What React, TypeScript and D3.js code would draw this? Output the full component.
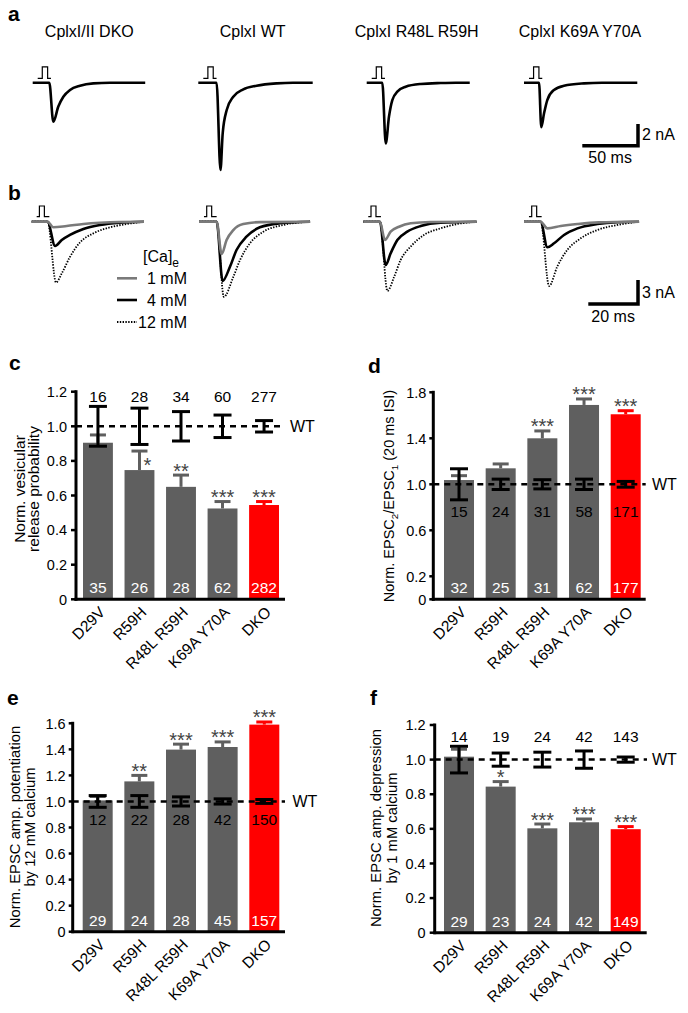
import React from "react";
import * as d3 from "d3";

const FONT = "'Liberation Sans', Arial, Helvetica, sans-serif";
const GRAY = "#5f5f5f";
const RED = "#ff0000";
const TRACE_GRAY = "#7a7a7a";

// ---------- shared categories ----------
const categories = ["D29V", "R59H", "R48L R59H", "K69A Y70A", "DKO"];

// ---------- panel c ----------
const cMeans = [0.905, 0.747, 0.65, 0.525, 0.545];
const cErr = [0.045, 0.11, 0.068, 0.04, 0.02];
const cWtErr = [0.115, 0.105, 0.085, 0.065, 0.033];
const cWtN = [16, 28, 34, 60, 277];
const cN = [35, 26, 28, 62, 282];
const cSig = ["", "*", "**", "***", "***"];
const cTicks = [0, 0.2, 0.4, 0.6, 0.8, 1.0, 1.2];

// ---------- panel d ----------
const dMeans = [1.037, 1.139, 1.4, 1.69, 1.609];
const dErr = [0.038, 0.038, 0.064, 0.052, 0.031];
const dWtErr = [0.135, 0.045, 0.04, 0.045, 0.025];
const dWtN = [15, 24, 31, 58, 171];
const dN = [32, 25, 31, 62, 177];
const dSig = ["", "", "***", "***", "***"];
const dTicks = [0, 0.2, 0.6, 1.0, 1.4, 1.8];

// ---------- panel e ----------
const eMeans = [1.008, 1.154, 1.398, 1.418, 1.59];
const eErr = [0.03, 0.046, 0.042, 0.039, 0.02];
const eWtErr = [0.045, 0.045, 0.035, 0.02, 0.015];
const eWtN = [12, 22, 28, 42, 150];
const eN = [29, 24, 28, 45, 157];
const eSig = ["", "**", "***", "***", "***"];
const eTicks = [0, 0.2, 0.4, 0.6, 0.8, 1.0, 1.2, 1.4, 1.6];

// ---------- panel f ----------
const fMeans = [1.017, 0.844, 0.603, 0.638, 0.598];
const fErr = [0.043, 0.029, 0.025, 0.019, 0.015];
const fWtErr = [0.077, 0.038, 0.043, 0.05, 0.015];
const fWtN = [14, 19, 24, 42, 143];
const fN = [29, 23, 24, 42, 149];
const fSig = ["", "*", "***", "***", "***"];
const fTicks = [0, 0.2, 0.4, 0.6, 0.8, 1.0, 1.2];

// ---------- panel a traces (ms, nA) ----------
const aTitles = ["CplxI/II DKO", "CplxI WT", "CplxI R48L R59H", "CplxI K69A Y70A"];
const aDKO = [[0, 0], [14.9, 0], [18.5, -3.6], [23, -2.2], [27.5, -1.29], [33.5, -0.67], [42.5, -0.28], [54.4, -0.06], [69.4, 0], [101, 0]];
const aWT = [[0, 0], [16.4, 0], [19.9, -8.05], [21.9, -4.66], [25.5, -2.52], [31.4, -1.29], [40.4, -0.61], [52.4, -0.28], [70.4, -0.06], [85, 0], [102.7, 0]];
const aR48L = [[0, 0], [14, 0], [17.1, -5.6], [20, -3.13], [23, -1.6], [27.5, -0.83], [35, -0.37], [48.5, -0.12], [66.4, -0.03], [80, 0], [92.5, 0]];
const aK69A = [[0, 0], [13.5, 0], [15.5, -4.1], [18, -2.82], [20.9, -1.6], [26.9, -0.67], [35.9, -0.28], [53.9, -0.06], [70, 0], [101.7, 0]];
const aStim = [[4.5, 0.4], [8.6, 0.4], [8.6, 1.45], [13.4, 1.45], [13.4, 0.4], [16.4, 0.4]];
const aScaleBar = { ms: 50, nA: 2 };

// ---------- panel b traces (ms, nA) ----------
const bDKO1 = [[0, 0], [6.4, 0], [8.7, -0.7], [14.1, -0.54], [20.8, -0.29], [27.5, -0.13], [35, -0.03], [45.2, 0]];
const bDKO4 = [[0, 0], [6.4, 0], [9.4, -3.04], [12.1, -2.29], [15.4, -1.66], [20.8, -0.91], [27.5, -0.41], [35.5, -0.12], [45.2, 0]];
const bDKO12 = [[0, 0], [6.4, 0], [9.8, -7.6], [12.1, -6.46], [15.4, -4.4], [19.4, -2.6], [24.8, -1.46], [31.5, -0.7], [38.2, -0.29], [45.2, 0]];
const bWT1 = [[0, 0], [7.1, 0], [9.1, -4.04], [11.1, -2.29], [13.8, -1.04], [17.8, -0.29], [24.5, -0.05], [44.7, 0]];
const bWT4 = [[0, 0], [7.1, 0], [9.5, -7.4], [12.5, -5.6], [15.1, -3.54], [19.1, -1.87], [24.5, -0.7], [32.6, -0.2], [44.7, 0]];
const bWT12 = [[0, 0], [7.1, 0], [10, -9.4], [13.8, -6.9], [16.5, -4.8], [20.5, -2.7], [25.9, -1.25], [33.9, -0.41], [44.7, 0]];
const bR48L1 = [[0, 0], [6.7, 0], [8.7, -2.29], [11, -1.25], [14.4, -0.63], [19.1, -0.2], [27, -0.03], [45.6, 0]];
const bR48L4 = [[0, 0], [6.7, 0], [9, -5.41], [11, -3.95], [13.7, -2.29], [17.7, -1.25], [23.1, -0.54], [31.1, -0.12], [45.6, 0]];
const bR48L12 = [[0, 0], [6.7, 0], [9.7, -8.66], [12.4, -6.9], [15, -4.8], [19.1, -3.1], [24.4, -1.66], [31.1, -0.83], [37.8, -0.29], [45.6, 0]];
const bK69A1 = [[0, 0], [6.7, 0], [9.4, -0.83], [14.8, -0.54], [21.5, -0.29], [30, -0.08], [46.3, 0]];
const bK69A4 = [[0, 0], [6.7, 0], [9.4, -3.2], [12.1, -2.7], [16.1, -1.66], [21.5, -0.83], [29.5, -0.29], [37.5, -0.06], [46.3, 0]];
const bK69A12 = [[0, 0], [6.7, 0], [10.1, -8.04], [13.4, -5.6], [17.4, -3.54], [22.8, -2.08], [29.5, -1.04], [37.5, -0.41], [46.3, 0]];
const bStim = [[2.0, 0.63], [3.1, 0.63], [3.1, 1.96], [5.1, 1.96], [5.1, 0.63], [7.1, 0.63]];
const bLegend = ["1 mM", "4 mM", "12 mM"];
const bScaleBar = { ms: 20, nA: 3 };

type Seg = { t: string; sub?: boolean };

function SegText({ segs, size }: { segs: Seg[]; size: number }) {
  const out: any[] = [];
  let shifted = false;
  segs.forEach((s, i) => {
    if (s.sub) {
      out.push(<tspan key={i} dy={size * 0.3} fontSize={size * 0.68}>{s.t}</tspan>);
      shifted = true;
    } else {
      out.push(<tspan key={i} dy={shifted ? -size * 0.3 : 0}>{s.t}</tspan>);
      shifted = false;
    }
  });
  return <>{out}</>;
}

type BarCfg = {
  letter: string; letterPos: [number, number];
  axisX: number; axisRight: number; band: [number, number];
  yRange: [number, number]; max: number; ticks: number[];
  tickLen: number; tickGap: number;
  means: number[]; err: number[]; wtErr: number[]; wtN: number[]; n: number[]; sig: string[];
  wtNBaseline: number; sigDx: number[]; sigDy: number[];
  dashEnd: number; wtLabelX: number;
  yLabel: Seg[][]; yLabelX: number[]; yLabelY: number; yLabelSize: number;
};

function BarPanel({ c }: { c: BarCfg }) {
  const x = d3.scaleBand<string>().domain(categories).range(c.band).paddingInner(0.28).paddingOuter(0);
  const y = d3.scaleLinear().domain([0, c.max]).range(c.yRange);
  const bw = x.bandwidth();
  const y0 = y(0);
  const cxOf = (k: string) => (x(k) as number) + bw / 2;
  const fmt = (v: number) => (v === 0 ? "0" : d3.format(".1f")(v));
  return (
    <g fontFamily={FONT}>
      {categories.map((k, i) => {
        const col = i === 4 ? RED : GRAY;
        const cx = cxOf(k);
        const top = y(c.means[i] + c.err[i]);
        return (
          <g key={"b" + k}>
            <rect x={x(k)} y={y(c.means[i])} width={bw} height={y0 - y(c.means[i])} fill={col} />
            <line x1={cx} x2={cx} y1={y(c.means[i])} y2={top} stroke={col} strokeWidth={3} />
            <line x1={cx - 8} x2={cx + 8} y1={top} y2={top} stroke={col} strokeWidth={3} />
          </g>
        );
      })}
      <line x1={c.axisX} x2={c.dashEnd} y1={y(1)} y2={y(1)} stroke="#000" strokeWidth={2.5} strokeDasharray="6,5" />
      {categories.map((k, i) => {
        const cx = cxOf(k);
        const t = y(1 + c.wtErr[i]);
        const b = y(1 - c.wtErr[i]);
        return (
          <g key={"w" + k} stroke="#000" strokeWidth={3}>
            <line x1={cx} x2={cx} y1={t} y2={b} />
            <line x1={cx - 9} x2={cx + 9} y1={t} y2={t} />
            <line x1={cx - 9} x2={cx + 9} y1={b} y2={b} />
          </g>
        );
      })}
      <text x={c.wtLabelX} y={y(1) + 5.7} fontSize={16}>WT</text>
      {/* axes */}
      <line x1={c.axisX} x2={c.axisX} y1={y(c.max) - 1.5} y2={y0 + 1.5} stroke="#000" strokeWidth={3} />
      <line x1={c.axisX - 1.5} x2={c.axisRight} y1={y0} y2={y0} stroke="#000" strokeWidth={3} />
      {c.ticks.map((t) => (
        <g key={"t" + t}>
          <line x1={c.axisX - c.tickLen} x2={c.axisX} y1={y(t)} y2={y(t)} stroke="#000" strokeWidth={2.5} />
          <text x={c.axisX - c.tickLen - c.tickGap} y={y(t) + 5.2} fontSize={14.5} textAnchor="end">{fmt(t)}</text>
        </g>
      ))}
      {categories.map((k, i) => (
        <g key={"n" + k}>
          <text x={cxOf(k)} y={c.wtNBaseline} fontSize={15.5} textAnchor="middle" fill="#000">{c.wtN[i]}</text>
          <text x={cxOf(k)} y={y0 - 6} fontSize={15.5} textAnchor="middle" fill="#fff">{c.n[i]}</text>
          {c.sig[i] && (
            <text x={cxOf(k) + c.sigDx[i]} y={y(c.means[i] + c.err[i]) + 2.5 + c.sigDy[i]} fontSize={20} textAnchor="middle" fill="#444">{c.sig[i]}</text>
          )}
          <text transform={`translate(${cxOf(k) + 8},${y0 + 14}) rotate(-45)`} fontSize={15.5} textAnchor="end">{k}</text>
        </g>
      ))}
      {c.yLabel.map((segs, j) => (
        <text key={"yl" + j} transform={`translate(${c.yLabelX[j]},${c.yLabelY}) rotate(-90)`} fontSize={c.yLabelSize} textAnchor="middle">
          <SegText segs={segs} size={c.yLabelSize} />
        </text>
      ))}
      <text x={c.letterPos[0]} y={c.letterPos[1]} fontSize={21} fontWeight="bold">{c.letter}</text>
    </g>
  );
}

type Trace = { start: number; data: number[][]; color: string; dash?: string; width: number };

function TraceGroup({ traces, baseline, pxPerMs, pxPerNA, stim }: { traces: Trace[]; baseline: number; pxPerMs: number; pxPerNA: number; stim: number[][] }) {
  const starts = Array.from(new Set(traces.map((t) => t.start)));
  return (
    <g>
      {traces.map((tr, i) => {
        const xs = d3.scaleLinear().domain([0, 1]).range([tr.start, tr.start + pxPerMs]);
        const ys = d3.scaleLinear().domain([0, -1]).range([baseline, baseline + pxPerNA]);
        const line = d3.line<number[]>().x((d) => xs(d[0])).y((d) => ys(d[1])).curve(d3.curveMonotoneX);
        return <path key={i} d={line(tr.data) || ""} fill="none" stroke={tr.color} strokeWidth={tr.width} strokeDasharray={tr.dash} strokeLinejoin="round" />;
      })}
      {starts.map((s, i) => {
        const xs = d3.scaleLinear().domain([0, 1]).range([s, s + pxPerMs]);
        const ys = d3.scaleLinear().domain([0, -1]).range([baseline, baseline + pxPerNA]);
        const line = d3.line<number[]>().x((d) => xs(d[0])).y((d) => ys(d[1]));
        return <path key={"s" + i} d={line(stim) || ""} fill="none" stroke="#000" strokeWidth={1.2} />;
      })}
    </g>
  );
}

function ScaleBar({ x, y, pxPerMs, pxPerNA, ms, nA, msLabel, nALabel }: any) {
  const xs = d3.scaleLinear().domain([0, ms]).range([x - ms * pxPerMs, x]);
  const ys = d3.scaleLinear().domain([0, nA]).range([y, y - nA * pxPerNA]);
  return (
    <g fontFamily={FONT}>
      <path d={`M${xs(0)},${ys(0)}H${xs(ms)}V${ys(nA)}`} fill="none" stroke="#000" strokeWidth={3.5} />
      <text x={x + 4} y={(ys(0) + ys(nA)) / 2 + 5.5} fontSize={16}>{nALabel}</text>
      <text x={(xs(0) + xs(ms)) / 2} y={y + 17.5} fontSize={16} textAnchor="middle">{msLabel}</text>
    </g>
  );
}

export default function App() {
  const aStarts = [32.7, 198.3, 366.7, 524];
  const aTitleX = [89.3, 252.7, 416.7, 580];
  const aData = [aDKO, aWT, aR48L, aK69A];
  const aTraces: Trace[] = aData.map((d, i) => ({ start: aStarts[i], data: d, color: "#000", width: 2.6 }));
  const pxMsA = 55.7 / 50;
  const pxNAA = 21.7 / 2;

  const bStarts = [31.7, 199, 363.3, 524];
  const bSets = [[bDKO1, bDKO4, bDKO12], [bWT1, bWT4, bWT12], [bR48L1, bR48L4, bR48L12], [bK69A1, bK69A4, bK69A12]];
  const bTraces: Trace[] = [];
  bSets.forEach((set, i) => {
    bTraces.push({ start: bStarts[i], data: set[2], color: "#000", width: 1.8, dash: "1.4,1.4" });
    bTraces.push({ start: bStarts[i], data: set[1], color: "#000", width: 2.6 });
    bTraces.push({ start: bStarts[i], data: set[0], color: TRACE_GRAY, width: 2.6 });
  });
  const pxMsB = 49.7 / 20;
  const pxNAB = 24 / 3;

  const zero5 = [0, 0, 0, 0, 0];
  const cCfg: BarCfg = {
    letter: "c", letterPos: [9, 370], axisX: 76, axisRight: 285, band: [83, 279], yRange: [599.3, 391.7], max: 1.2, ticks: cTicks,
    tickLen: 5, tickGap: 4, means: cMeans, err: cErr, wtErr: cWtErr, wtN: cWtN, n: cN, sig: cSig,
    wtNBaseline: 401.5, sigDx: [0, 8, 0, 0, 0], sigDy: [0, 18, 0, 0, 0], dashEnd: 285, wtLabelX: 290,
    yLabel: [[{ t: "Norm. vesicular" }], [{ t: "release probability" }]], yLabelX: [25, 39], yLabelY: 489, yLabelSize: 15.5,
  };
  const dCfg: BarCfg = {
    letter: "d", letterPos: [368, 373], axisX: 433.3, axisRight: 645.7, band: [444, 640.7], yRange: [599.3, 392.3], max: 1.8, ticks: dTicks,
    tickLen: 4, tickGap: 3, means: dMeans, err: dErr, wtErr: dWtErr, wtN: dWtN, n: dN, sig: dSig,
    wtNBaseline: 517, sigDx: zero5, sigDy: zero5, dashEnd: 645.7, wtLabelX: 652,
    yLabel: [[{ t: "Norm. EPSC" }, { t: "2", sub: true }, { t: "/EPSC" }, { t: "1", sub: true }, { t: " (20 ms ISI)" }]], yLabelX: [394], yLabelY: 496, yLabelSize: 14.5,
  };
  const eCfg: BarCfg = {
    letter: "e", letterPos: [7, 705], axisX: 72.7, axisRight: 285, band: [82.7, 279.3], yRange: [931.7, 723.3], max: 1.6, ticks: eTicks,
    tickLen: 4, tickGap: 3, means: eMeans, err: eErr, wtErr: eWtErr, wtN: eWtN, n: eN, sig: eSig,
    wtNBaseline: 824.7, sigDx: zero5, sigDy: zero5, dashEnd: 285, wtLabelX: 292.5,
    yLabel: [[{ t: "Norm. EPSC amp. potentiation" }], [{ t: "by 12 mM calcium" }]], yLabelX: [20, 35], yLabelY: 827, yLabelSize: 14.8,
  };
  const fCfg: BarCfg = {
    letter: "f", letterPos: [370, 705], axisX: 434.7, axisRight: 646.7, band: [444, 640.7], yRange: [932.7, 725], max: 1.2, ticks: fTicks,
    tickLen: 5, tickGap: 4, means: fMeans, err: fErr, wtErr: fWtErr, wtN: fWtN, n: fN, sig: fSig,
    wtNBaseline: 741.5, sigDx: zero5, sigDy: zero5, dashEnd: 647, wtLabelX: 652,
    yLabel: [[{ t: "Norm. EPSC amp. depression" }], [{ t: "by 1 mM calcium" }]], yLabelX: [381, 397], yLabelY: 828, yLabelSize: 14.8,
  };

  const legendY = [278.3, 300, 322];
  const legendStyles = [
    { color: TRACE_GRAY, width: 2.6, dash: undefined as any },
    { color: "#000", width: 2.6, dash: undefined as any },
    { color: "#000", width: 1.8, dash: "1.4,1.4" },
  ];

  return (
    <svg width={688} height={1013} style={{ position: "absolute", left: 0, top: 0, background: "#fff" }} fontFamily={FONT}>
      <rect x={0} y={0} width={688} height={1013} fill="#fff" />
      {/* panel a */}
      <text x={8} y={21} fontSize={21} fontWeight="bold">a</text>
      {aTitles.map((t, i) => (
        <text key={t} x={aTitleX[i]} y={36.5} fontSize={16} textAnchor="middle">{t}</text>
      ))}
      <TraceGroup traces={aTraces} baseline={82.7} pxPerMs={pxMsA} pxPerNA={pxNAA} stim={aStim} />
      <ScaleBar x={638} y={145.7} pxPerMs={pxMsA} pxPerNA={pxNAA} ms={aScaleBar.ms} nA={aScaleBar.nA} msLabel="50 ms" nALabel="2 nA" />

      {/* panel b */}
      <text x={8} y={200} fontSize={21} fontWeight="bold">b</text>
      <TraceGroup traces={bTraces} baseline={221.7} pxPerMs={pxMsB} pxPerNA={pxNAB} stim={bStim} />
      <ScaleBar x={638} y={304} pxPerMs={pxMsB} pxPerNA={pxNAB} ms={bScaleBar.ms} nA={bScaleBar.nA} msLabel="20 ms" nALabel="3 nA" />
      <text x={143} y={262} fontSize={16}>[Ca]<tspan dy={5} fontSize={12}>e</tspan></text>
      {bLegend.map((l, i) => (
        <g key={l}>
          <line x1={117} x2={137} y1={legendY[i]} y2={legendY[i]} stroke={legendStyles[i].color} strokeWidth={legendStyles[i].width} strokeDasharray={legendStyles[i].dash} />
          <text x={187} y={legendY[i] + 5.7} fontSize={16} textAnchor="end">{l}</text>
        </g>
      ))}

      <BarPanel c={cCfg} />
      <BarPanel c={dCfg} />
      <BarPanel c={eCfg} />
      <BarPanel c={fCfg} />
    </svg>
  );
}
